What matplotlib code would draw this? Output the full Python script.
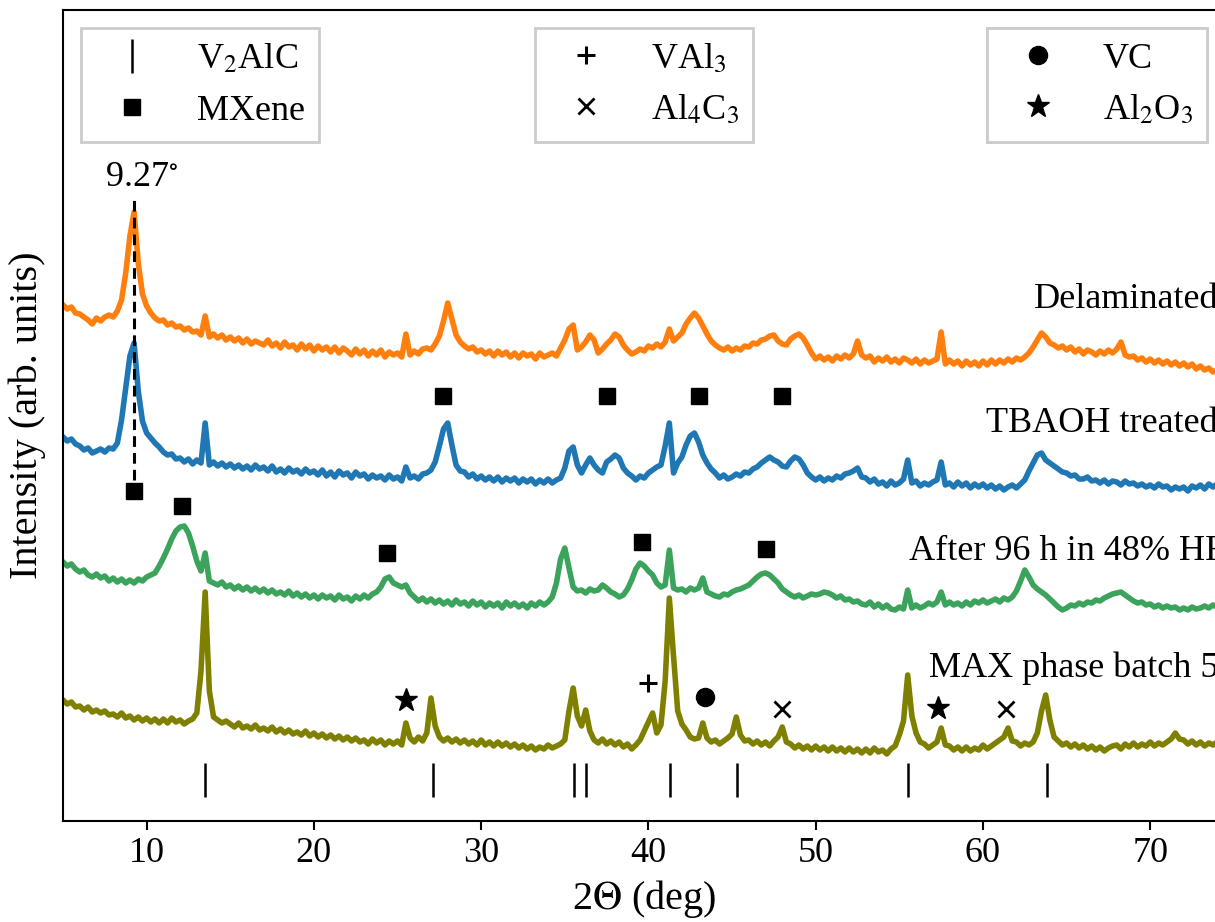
"""Stacked XRD patterns: MAX phase, HF etched, TBAOH treated and delaminated V2C."""

import matplotlib
matplotlib.use("Agg")
import matplotlib.pyplot as plt
import numpy as np

plt.rcParams["font.family"] = ["Liberation Serif", "DejaVu Serif"]
plt.rcParams["mathtext.fontset"] = "stix"
plt.rcParams["font.size"] = 26

# ---------------------------------------------------------------------------
# Data (2theta grid in degrees, intensities in arbitrary units, already stacked)
# ---------------------------------------------------------------------------
TWO_THETA = np.arange(5.0, 74.51, 0.25)

DELAMINATED = [
    516, 512, 514, 508, 507, 504, 501, 497, 503, 500, 504, 506,   # 5-7
    504, 510, 521, 548, 585, 609, 558, 527, 515, 508, 503, 500,   # 8-10
    501, 496, 498, 494, 495, 491, 493, 489, 490, 486, 505, 484,   # 11-13
    487, 483, 486, 481, 484, 480, 483, 478, 482, 477, 480, 478,   # 14-16
    476, 481, 475, 478, 473, 479, 474, 476, 471, 477, 472, 476,   # 17-19
    470, 475, 471, 474, 469, 474, 468, 473, 470, 466, 472, 467,   # 20-22
    471, 465, 470, 466, 471, 464, 469, 466, 468, 464, 487, 466,   # 23-25
    470, 467, 472, 473, 471, 477, 485, 500, 518, 502, 486, 479,   # 26-28
    475, 472, 474, 469, 471, 467, 470, 465, 470, 466, 469, 464,   # 29-31
    468, 463, 468, 465, 467, 462, 468, 464, 466, 468, 465, 473,   # 32-34
    481, 492, 496, 471, 474, 479, 486, 481, 468, 472, 477, 481,   # 35-37
    487, 484, 476, 471, 467, 469, 472, 470, 475, 473, 477, 474,   # 38-40
    479, 492, 480, 484, 488, 497, 503, 508, 503, 495, 487, 480,   # 41-43
    476, 473, 471, 474, 470, 473, 471, 475, 474, 478, 477, 481,   # 44-46
    482, 485, 486, 480, 477, 476, 482, 485, 487, 483, 476, 468,   # 47-49
    462, 465, 461, 464, 460, 465, 462, 466, 463, 467, 480, 466,   # 50-52
    463, 465, 459, 463, 460, 464, 459, 462, 458, 463, 461, 458,   # 53-55
    462, 457, 461, 458, 460, 462, 489, 457, 461, 457, 460, 455,   # 56-58
    460, 456, 459, 455, 460, 456, 461, 457, 461, 458, 462, 459,   # 59-61
    463, 461, 464, 468, 474, 481, 488, 484, 478, 476, 473, 475,   # 62-64
    471, 474, 469, 472, 467, 471, 469, 466, 470, 467, 471, 468,   # 65-67
    472, 479, 466, 464, 465, 461, 463, 459, 462, 458, 461, 457,   # 68-70
    460, 456, 459, 455, 458, 454, 457, 452, 455, 451, 453, 449,   # 71-73
    451, 448, 449,                                                # 74
]

TBAOH = [
    384, 380, 382, 377, 375, 371, 373, 368, 370, 372, 369, 373,   # 5-7
    372, 378, 401, 433, 465, 478, 430, 400, 388, 383, 378, 374,   # 8-10
    369, 366, 367, 362, 363, 359, 362, 357, 361, 358, 398, 356,   # 11-13
    359, 355, 358, 354, 357, 353, 356, 352, 355, 351, 356, 352,   # 14-16
    354, 350, 355, 349, 352, 348, 353, 349, 351, 347, 352, 348,   # 17-19
    350, 346, 351, 345, 349, 344, 350, 346, 348, 343, 349, 345,   # 20-22
    347, 342, 346, 343, 345, 341, 346, 342, 344, 340, 354, 343,   # 23-25
    345, 342, 347, 348, 351, 359, 375, 392, 398, 376, 356, 350,   # 26-28
    349, 344, 347, 342, 345, 341, 344, 340, 344, 339, 343, 340,   # 29-31
    343, 338, 342, 339, 342, 337, 341, 338, 342, 338, 341, 343,   # 32-34
    353, 370, 374, 356, 348, 356, 363, 356, 351, 348, 359, 362,   # 35-37
    366, 363, 353, 348, 345, 341, 345, 343, 348, 351, 354, 356,   # 38-40
    375, 398, 348, 358, 364, 376, 385, 388, 379, 366, 358, 352,   # 41-43
    348, 343, 346, 342, 344, 347, 345, 349, 348, 352, 354, 358,   # 44-46
    361, 364, 361, 359, 355, 354, 360, 364, 362, 356, 348, 344,   # 47-49
    341, 344, 340, 343, 341, 345, 343, 347, 348, 350, 353, 344,   # 50-52
    343, 339, 342, 337, 339, 335, 340, 336, 338, 342, 361, 338,   # 53-55
    340, 335, 338, 336, 339, 341, 359, 336, 338, 334, 339, 335,   # 56-58
    338, 333, 337, 334, 337, 333, 336, 332, 335, 331, 334, 336,   # 59-61
    333, 337, 341, 350, 358, 366, 368, 361, 358, 355, 352, 349,   # 62-64
    348, 345, 346, 342, 342, 344, 340, 341, 338, 341, 337, 340,   # 65-67
    339, 336, 340, 337, 338, 335, 337, 334, 336, 333, 337, 334,   # 68-70
    335, 331, 334, 332, 334, 330, 335, 333, 336, 332, 337, 334,   # 71-73
    337, 334, 337,                                                # 74
]

HF_ETCHED = [
    259, 255, 257, 252, 249, 251, 246, 244, 247, 243, 245, 240,   # 5-7
    243, 239, 242, 238, 241, 238, 242, 240, 244, 246, 248, 255,   # 8-10
    263, 272, 282, 290, 294, 295, 288, 275, 260, 250, 268, 240,   # 11-13
    238, 236, 239, 234, 236, 232, 235, 231, 234, 230, 233, 229,   # 14-16
    232, 228, 231, 227, 229, 226, 230, 225, 228, 224, 227, 223,   # 17-19
    226, 222, 226, 223, 225, 221, 226, 222, 224, 220, 225, 222,   # 20-22
    226, 223, 227, 229, 234, 242, 244, 238, 236, 234, 236, 228,   # 23-25
    224, 220, 223, 219, 222, 218, 221, 217, 220, 216, 221, 217,   # 26-28
    219, 215, 220, 216, 219, 214, 218, 215, 218, 213, 219, 215,   # 29-31
    218, 214, 217, 213, 218, 215, 219, 216, 219, 224, 238, 262,   # 32-34
    273, 253, 234, 230, 231, 228, 232, 230, 231, 236, 233, 229,   # 35-37
    227, 224, 226, 232, 241, 252, 258, 255, 250, 246, 238, 234,   # 38-40
    236, 271, 233, 231, 232, 229, 233, 231, 233, 243, 229, 227,   # 41-43
    225, 224, 227, 226, 229, 231, 232, 234, 236, 240, 244, 247,   # 44-46
    248, 246, 242, 238, 232, 229, 226, 224, 226, 223, 225, 227,   # 47-49
    226, 227, 229, 228, 226, 223, 225, 221, 222, 219, 220, 217,   # 50-52
    216, 219, 214, 217, 213, 216, 212, 211, 214, 212, 231, 213,   # 53-55
    216, 213, 215, 218, 216, 219, 229, 216, 219, 216, 218, 215,   # 56-58
    219, 216, 220, 218, 221, 218, 220, 222, 219, 223, 221, 224,   # 59-61
    230, 240, 251, 244, 236, 232, 229, 226, 222, 218, 214, 211,   # 62-64
    213, 216, 215, 218, 216, 219, 218, 221, 220, 223, 225, 227,   # 65-67
    228, 229, 226, 223, 220, 218, 219, 216, 217, 214, 216, 213,   # 68-70
    215, 213, 214, 211, 213, 211, 214, 212, 213, 215, 213, 216,   # 71-73
    214, 216, 215,                                                # 74
]

MAX_PHASE = [
    121, 117, 119, 114, 115, 111, 114, 109, 111, 108, 110, 106,   # 5-7
    107, 104, 108, 103, 105, 101, 104, 100, 103, 99, 102, 98,     # 8-10
    102, 98, 103, 99, 101, 97, 100, 102, 108, 150, 229, 130,      # 11-13
    104, 101, 98, 100, 97, 94, 98, 93, 95, 92, 96, 91,            # 14-16
    93, 90, 94, 89, 92, 88, 91, 87, 89, 86, 90, 85,               # 17-19
    88, 84, 87, 83, 86, 82, 85, 81, 84, 80, 83, 79,               # 20-22
    81, 77, 82, 78, 81, 76, 80, 77, 80, 76, 98, 83,               # 23-25
    79, 84, 80, 88, 123, 95, 84, 80, 83, 79, 82, 78,              # 26-28
    81, 77, 80, 76, 81, 76, 79, 75, 79, 75, 78, 74,               # 29-31
    77, 73, 76, 72, 75, 71, 74, 72, 76, 73, 75, 77,               # 32-34
    81, 110, 133, 105, 95, 111, 90, 81, 78, 82, 77, 80,           # 35-37
    76, 79, 74, 77, 72, 76, 81, 90, 99, 108, 88, 96,              # 38-40
    140, 223, 165, 110, 97, 91, 84, 82, 83, 98, 83, 79,           # 41-43
    81, 77, 80, 83, 87, 104, 86, 80, 81, 77, 80, 76,              # 44-46
    79, 75, 80, 84, 94, 79, 77, 73, 76, 72, 75, 71,               # 47-49
    75, 71, 74, 70, 74, 70, 73, 69, 73, 69, 72, 68,               # 50-52
    72, 68, 73, 69, 71, 67, 72, 75, 86, 100, 146, 105,            # 53-55
    88, 79, 77, 73, 76, 79, 93, 76, 75, 71, 74, 70,               # 56-58
    74, 70, 73, 71, 76, 72, 75, 78, 81, 84, 93, 80,               # 59-61
    79, 75, 78, 76, 79, 88, 110, 126, 101, 84, 80, 76,            # 62-64
    78, 74, 77, 73, 76, 72, 75, 71, 74, 70, 73, 75,               # 65-67
    76, 72, 77, 74, 78, 74, 77, 75, 79, 75, 78, 76,               # 68-70
    79, 82, 88, 82, 81, 77, 80, 76, 79, 75, 78, 76,               # 71-73
    79, 76, 79,                                                   # 74
]

SERIES = [DELAMINATED, TBAOH, HF_ETCHED, MAX_PHASE]
SERIES_LABELS = ["Delaminated", "TBAOH treated", "After 96 h in 48% HF",
                 "MAX phase batch 5"]
SERIES_COLORS = ["#ff7f0e", "#1f77b4", "#3ba35b", "#808000"]
# where each curve label starts (2theta) and its baseline (intensity)
LABEL_X = [63.05, 60.18, 55.58, 56.75]
LABEL_Y = [513, 389, 261, 144]

# Phase reflections
V2ALC_2THETA = [13.48, 27.1, 35.56, 36.24, 41.28, 45.27, 55.5, 63.83]
V2ALC_LEVEL = 41
MXENE_2THETA = [27.7, 37.5, 43.0, 48.0, 9.25, 12.1, 24.4, 39.6, 47.0]
MXENE_LEVEL = [425, 425, 425, 425, 330, 315, 268, 279, 272]
VAL3_2THETA = [40.0]
VAL3_LEVEL = [138]
AL4C3_2THETA = [48.0, 61.4]
AL4C3_LEVEL = [112, 112]
VC_2THETA = [43.4]
VC_LEVEL = [124]
AL2O3_2THETA = [25.5, 57.3]
AL2O3_LEVEL = [121, 113]

D_SPACING_PEAK = 9.27
PEAK_LINE_RANGE = (341, 621)

# ---------------------------------------------------------------------------
# Drawing
# ---------------------------------------------------------------------------
MARKERS = {
    "V$_2$AlC": dict(marker="|", markersize=25, markeredgewidth=1.8),
    "MXene": dict(marker="s", markersize=11),
    "VAl$_3$": dict(marker="+", markersize=13, markeredgewidth=2.2),
    "Al$_4$C$_3$": dict(marker="x", markersize=11, markeredgewidth=2.0),
    "VC": dict(marker="o", markersize=13),
    "Al$_2$O$_3$": dict(marker="*", markersize=17),
}


def main() -> None:
    fig = plt.figure(figsize=(12.15, 9.22), dpi=100)
    ax = fig.add_axes([63 / 1215, 101 / 922, 1162.5 / 1215, 811 / 922])

    for values, label, color, lx, ly in zip(SERIES, SERIES_LABELS, SERIES_COLORS,
                                            LABEL_X, LABEL_Y):
        ax.plot(TWO_THETA, values, color=color, linewidth=4.0, zorder=2)
        ax.text(lx, ly, label, ha="left", va="baseline", fontsize=26)

    marker_data = {
        "V$_2$AlC": (V2ALC_2THETA, [V2ALC_LEVEL] * len(V2ALC_2THETA)),
        "MXene": (MXENE_2THETA, MXENE_LEVEL),
        "VAl$_3$": (VAL3_2THETA, VAL3_LEVEL),
        "Al$_4$C$_3$": (AL4C3_2THETA, AL4C3_LEVEL),
        "VC": (VC_2THETA, VC_LEVEL),
        "Al$_2$O$_3$": (AL2O3_2THETA, AL2O3_LEVEL),
    }
    handles = {}
    for name, (xs, ys) in marker_data.items():
        (h,) = ax.plot(xs, ys, linestyle="none", color="black", zorder=3,
                       label=name, **MARKERS[name])
        handles[name] = h

    # interlayer peak of the delaminated / TBAOH samples
    ax.plot([D_SPACING_PEAK, D_SPACING_PEAK], PEAK_LINE_RANGE, color="black",
            linestyle=(0, (3.5, 2.0)), linewidth=2.2, zorder=3)
    ax.annotate(f"{D_SPACING_PEAK}$^{{\\circ}}$", xy=(D_SPACING_PEAK, PEAK_LINE_RANGE[1]),
                xytext=(5, 4), textcoords="offset points", ha="center",
                va="bottom", fontsize=26)

    legend_style = dict(fancybox=False, edgecolor="#cccccc", framealpha=1,
                        fontsize=26, numpoints=1)
    groups = [(["V$_2$AlC", "MXene"], "upper left"),
              (["VAl$_3$", "Al$_4$C$_3$"], "upper center"),
              (["VC", "Al$_2$O$_3$"], "upper right")]
    for names, loc in groups:
        leg = ax.legend(handles=[handles[n] for n in names], loc=loc, **legend_style)
        leg.get_frame().set_linewidth(2.0)
        ax.add_artist(leg)

    ax.set_xlim(5, 74.5)
    ax.set_ylim(0, 811)
    ax.set_yticks([])
    ax.set_xticks([10, 20, 30, 40, 50, 60, 70])
    ax.tick_params(axis="x", labelsize=26, length=6.5, width=1.5, pad=5)
    for spine in ax.spines.values():
        spine.set_linewidth(1.5)
    ax.set_xlabel("2$\\Theta$ (deg)", fontsize=29, labelpad=6)
    ax.set_ylabel("Intensity (arb. units)", fontsize=29, labelpad=12)

    fig.savefig("out.png", dpi=100, facecolor="white")
    plt.close(fig)


if __name__ == "__main__":
    main()
